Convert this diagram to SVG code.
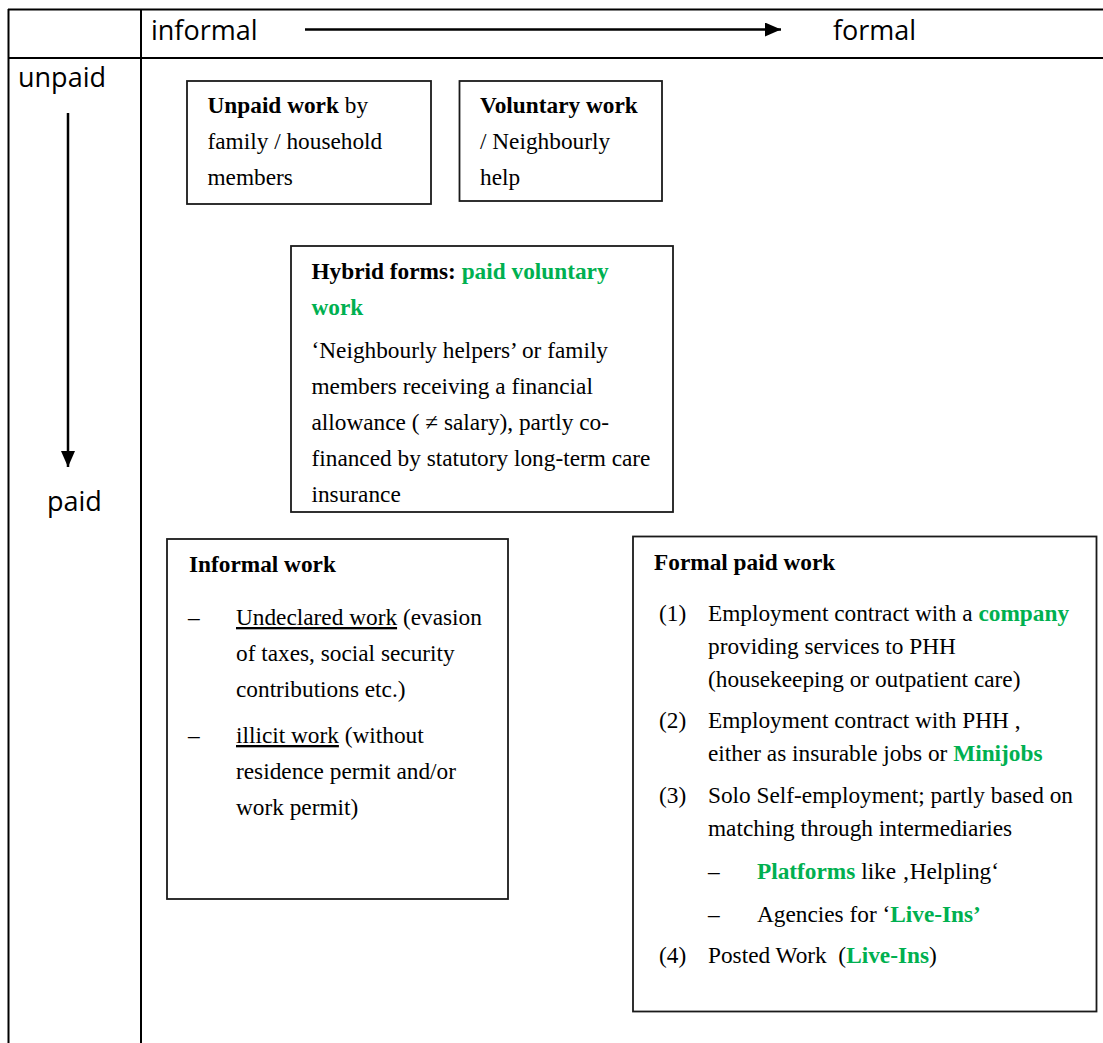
<svg xmlns="http://www.w3.org/2000/svg" width="1103" height="1043" viewBox="0 0 1103 1043">
<style>
.grid{stroke:#000;stroke-width:2;fill:none}
.box{fill:#fff;stroke:#1a1a1a;stroke-width:1.8}
.hdr{font-family:"Open Sans","DejaVu Sans",sans-serif;font-size:27px;fill:#000}
.t{font-family:"Liberation Serif","Times New Roman",serif;font-size:23.3px;fill:#000}
.b{font-weight:bold}
.g{font-weight:bold;fill:#00B050}
.u{text-decoration:underline}
.arr{stroke:#000;stroke-width:2.5;fill:none}
</style>
<defs>
<marker id="ah" viewBox="0 0 16 14" refX="16" refY="7" markerWidth="16" markerHeight="14" markerUnits="userSpaceOnUse" orient="auto">
<path d="M0,0 L16,7 L0,14 z" fill="#000"/>
</marker>
</defs>
<rect width="1103" height="1043" fill="#fff"/>
<g id="table">
<line class="grid" x1="8" y1="9.5" x2="1103" y2="9.5"/>
<line class="grid" x1="8" y1="58" x2="1103" y2="58"/>
<line class="grid" x1="8.5" y1="9" x2="8.5" y2="1043"/>
<line class="grid" x1="141" y1="9" x2="141" y2="1043"/>
</g>
<g id="axis-labels">
<text class="hdr" x="151" y="40">informal</text>
<text class="hdr" x="833" y="40">formal</text>
<text class="hdr" x="18" y="87">unpaid</text>
<text class="hdr" x="47" y="511">paid</text>
</g>
<g id="connectors">
<line class="arr" x1="305" y1="29.5" x2="781" y2="29.5" marker-end="url(#ah)"/>
<line class="arr" x1="68" y1="113" x2="68" y2="467" marker-end="url(#ah)"/>
</g>
<g id="unpaid-family" font-family="Liberation Serif, serif">
<rect class="box" x="187" y="81" width="244" height="123"/>
<text class="t"><tspan x="207.5" y="113"><tspan class="b">Unpaid work</tspan> by</tspan><tspan x="207.5" y="149">family / household</tspan><tspan x="207.5" y="185">members</tspan></text>
</g>
<g id="voluntary" font-family="Liberation Serif, serif">
<rect class="box" x="459.5" y="81" width="202.5" height="120"/>
<text class="t"><tspan x="480" y="113" class="b">Voluntary work</tspan><tspan x="480" y="149">/ Neighbourly</tspan><tspan x="480" y="185">help</tspan></text>
</g>
<g id="hybrid" font-family="Liberation Serif, serif">
<rect class="box" x="291" y="246" width="382" height="266"/>
<text class="t"><tspan x="311.5" y="279"><tspan class="b">Hybrid forms: </tspan><tspan class="g">paid voluntary</tspan></tspan><tspan x="311.5" y="315" class="g">work</tspan><tspan x="311.5" y="358">‘Neighbourly helpers’ or family</tspan><tspan x="311.5" y="394">members receiving a financial</tspan><tspan x="311.5" y="430">allowance ( ≠ salary), partly co-</tspan><tspan x="311.5" y="466">financed by statutory long-term care</tspan><tspan x="311.5" y="502">insurance</tspan></text>
</g>
<g id="informal-work" font-family="Liberation Serif, serif">
<rect class="box" x="167" y="539" width="341" height="360"/>
<text class="t"><tspan x="189" y="572" class="b">Informal work</tspan><tspan x="188" y="625">–</tspan><tspan x="236" y="625"><tspan class="u">Undeclared work</tspan> (evasion</tspan><tspan x="236" y="661">of taxes, social security</tspan><tspan x="236" y="697">contributions etc.)</tspan><tspan x="188" y="743">–</tspan><tspan x="236" y="743"><tspan class="u">illicit work</tspan> (without</tspan><tspan x="236" y="779">residence permit and/or</tspan><tspan x="236" y="815">work permit)</tspan></text>
</g>
<g id="formal-paid-work" font-family="Liberation Serif, serif">
<rect class="box" x="633" y="536.5" width="463.5" height="475"/>
<text class="t"><tspan x="654" y="570" class="b">Formal paid work</tspan><tspan x="659" y="621">(1)</tspan><tspan x="708" y="621">Employment contract with a <tspan class="g">company</tspan></tspan><tspan x="708" y="654">providing services to PHH</tspan><tspan x="708" y="687">(housekeeping or outpatient care)</tspan><tspan x="659" y="728">(2)</tspan><tspan x="708" y="728">Employment contract with PHH ,</tspan><tspan x="708" y="761">either as insurable jobs or <tspan class="g">Minijobs</tspan></tspan><tspan x="659" y="803">(3)</tspan><tspan x="708" y="803">Solo Self-employment; partly based on</tspan><tspan x="708" y="836">matching through intermediaries</tspan><tspan x="708" y="879">–</tspan><tspan x="757" y="879"><tspan class="g">Platforms</tspan> like ‚Helpling‘</tspan><tspan x="708" y="922">–</tspan><tspan x="757" y="922">Agencies for ‘<tspan class="g">Live-Ins’</tspan></tspan><tspan x="659" y="963">(4)</tspan><tspan x="708" y="963">Posted Work&#160; (<tspan class="g">Live-Ins</tspan>)</tspan></text>
</g>
</svg>
